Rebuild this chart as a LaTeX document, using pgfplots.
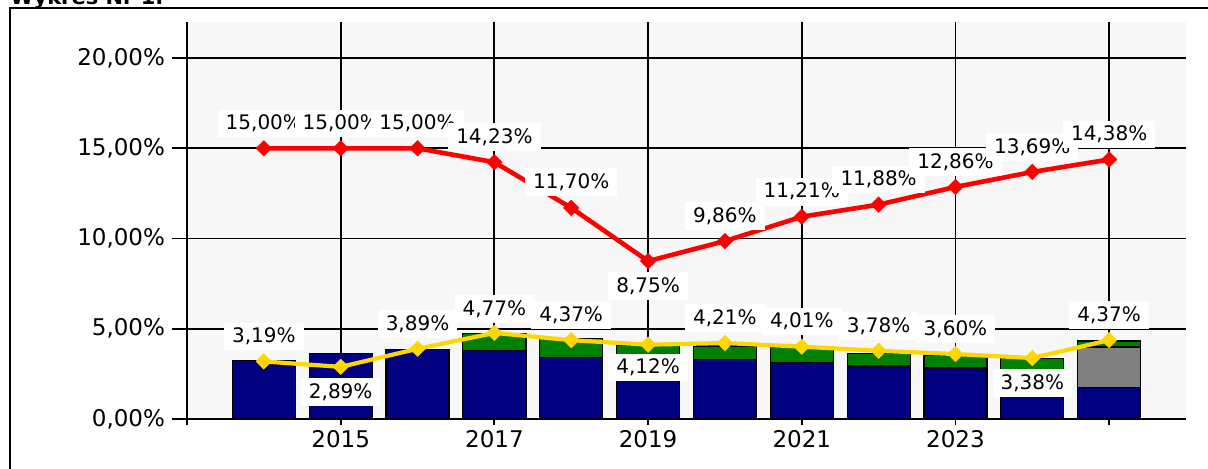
\documentclass[border=0pt]{standalone}
\usepackage{pgfplots}
\pgfplotsset{compat=1.18}
\usepackage{fontspec}
\setmainfont{DejaVu Sans}
\definecolor{navyb}{RGB}{0,0,128}
\definecolor{greenb}{RGB}{0,128,0}
\definecolor{grayb}{RGB}{128,128,128}
\definecolor{redl}{RGB}{255,0,0}
\definecolor{yell}{RGB}{255,215,0}
\begin{document}
\begin{tikzpicture}
\useasboundingbox (0,0) rectangle (604pt,234pt);
\draw[line width=1pt] (5pt,-10pt) -- (5pt,230pt) -- (620pt,230pt);
\node[anchor=base west, font=\bfseries\fontsize{10.5}{12}\selectfont, inner sep=0pt] at (5pt,232pt) {Wykres Nr 1.};
\begin{axis}[
  at={(93.5pt,24.5pt)}, anchor=south west,
  scale only axis, width=499.5pt, height=198.5pt,
  xmin=2013, xmax=2026, ymin=0, ymax=22,
  axis lines=left, axis line style={-, line width=0.9pt},
  xtick={2013,2015,...,2025},
  xticklabels={,2015,2017,2019,2021,2023,},
  ytick={0,5,10,15,20},
  yticklabels={{0,00\%},{5,00\%},{10,00\%},{15,00\%},{20,00\%}},
  tick align=outside,
  major tick length=7.5pt,
  xtick style={/pgfplots/major tick length=3pt, black, line width=0.9pt},
  ytick style={black, line width=0.9pt},
  grid=major, grid style={black, line width=0.9pt},
  axis background/.style={fill=black!3},
  ticklabel style={font=\fontsize{11.5}{13}\selectfont, text=black},
  xticklabel style={yshift=5.5pt},
  /pgf/number format/assume math mode=true,
  clip=false,
  every node near coord/.style={fill=white, inner xsep=4pt, inner ysep=2.6pt,
     font=\fontsize{10}{12}\selectfont, text=black, anchor=center, yshift=\lshift pt},
]
% bars: drawn as overlays (total top first)
\addplot[ybar, bar width=0.82, fill=greenb, draw=black, line width=0.6pt] coordinates {
(2017,4.72) (2018,4.47) (2019,4.08) (2020,4.05) (2021,3.99) (2022,3.62) (2023,3.53) (2024,3.35) (2025,4.32)};
\addplot[ybar, bar width=0.82, fill=grayb, draw=black, line width=0.6pt] coordinates {
(2025,3.99)};
\addplot[ybar, bar width=0.82, fill=navyb, draw=black, line width=0.6pt] coordinates {
(2014,3.25) (2015,3.65) (2016,3.84) (2017,3.80) (2018,3.40) (2019,3.43) (2020,3.31) (2021,3.12) (2022,2.94) (2023,2.83) (2024,2.74) (2025,1.75)};
% red line
\addplot[redl, line width=2.3pt, mark=square*, mark size=2.8pt,
  mark options={rotate=45, solid, fill=redl, draw=redl, line width=0.1pt},
  point meta=y, visualization depends on={value \thisrow{s} \as \lshift},
  nodes near coords={\pgfmathprintnumber[fixed,fixed zerofill,precision=2,use comma]{\pgfplotspointmeta}\%}]
 table[x=x, y=y] {
x y s
2014 15.00 12.5
2015 15.00 12.5
2016 15.00 12.5
2017 14.23 12.5
2018 11.70 13
2019 8.75 -12.5
2020 9.86 12.5
2021 11.21 12.5
2022 11.88 12.5
2023 12.86 12.5
2024 13.69 12.5
2025 14.38 12.5
};
% yellow line
\addplot[yell, line width=2.1pt, mark=square*, mark size=2.8pt,
  mark options={rotate=45, solid, fill=yell, draw=yell, line width=0.1pt},
  point meta=y, visualization depends on={value \thisrow{s} \as \lshift},
  nodes near coords={\pgfmathprintnumber[fixed,fixed zerofill,precision=2,use comma]{\pgfplotspointmeta}\%}]
 table[x=x, y=y] {
x y s
2014 3.19 12.5
2015 2.89 -12.5
2016 3.89 12.5
2017 4.77 12
2018 4.37 12.5
2019 4.12 -11.5
2020 4.21 12.5
2021 4.01 12.5
2022 3.78 12.5
2023 3.60 12.5
2024 3.38 -12.5
2025 4.37 12.5
};
\end{axis}
\end{tikzpicture}
\end{document}
